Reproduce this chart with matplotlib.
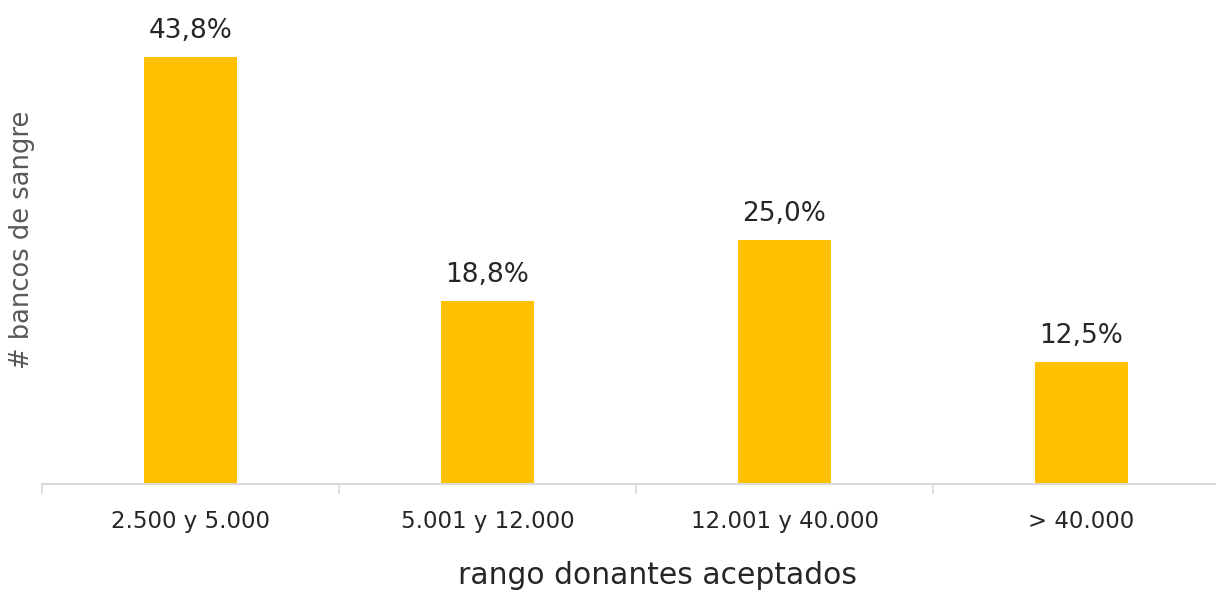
import matplotlib
matplotlib.use("Agg")
import matplotlib.pyplot as plt

plt.rcParams['font.family'] = ['DejaVu Sans']

# ── data ───────────────────────────────────────────────────────────
categories = ['2.500 y 5.000', '5.001 y 12.000', '12.001 y 40.000', '> 40.000']
values = [43.8, 18.8, 25.0, 12.5]
labels = ['43,8%', '18,8%', '25,0%', '12,5%']

# ── plot ───────────────────────────────────────────────────────────
W, H = 1216, 591
fig = plt.figure(figsize=(W / 100, H / 100), dpi=100)
# one category = 297 px; the axis runs off the right edge like the original
ax = fig.add_axes([42 / W, 107 / H, 1188 / W, 468 / H])

x = range(len(categories))
ax.bar(x, values, width=0.31, color='#FFC000', zorder=2)
for xi, v, lbl in zip(x, values, labels):
    ax.text(xi, v + 1.95, lbl, ha='center', va='baseline',
            fontsize=19, color='#262626')

ax.set_xlim(-0.5, 3.5)
ax.set_ylim(0, 48)
ax.set_xticks([i + 0.5 for i in range(-1, 4)], minor=False)
ax.set_xticklabels([])
ax.tick_params(axis='x', which='major', length=7, color='#D9D9D9', width=1.2)
ax.set_xticks(list(x), minor=True)
ax.set_xticklabels(categories, minor=True)
ax.tick_params(axis='x', which='minor', length=0, pad=19,
               labelsize=16.5, labelcolor='#262626')
ax.set_yticks([])

for s in ['top', 'right', 'left']:
    ax.spines[s].set_visible(False)
ax.spines['bottom'].set_color('#D9D9D9')
ax.spines['bottom'].set_linewidth(1.5)

fig.text(658 / W, 1 - 576 / H, 'rango donantes aceptados', ha='center',
         va='center', fontsize=21.4, color='#262626')
fig.text(22 / W, 1 - 240 / H, '# bancos de sangre', ha='center',
         va='center', rotation=90, fontsize=18.5, color='#595959')

fig.savefig('out.png', dpi=100)
